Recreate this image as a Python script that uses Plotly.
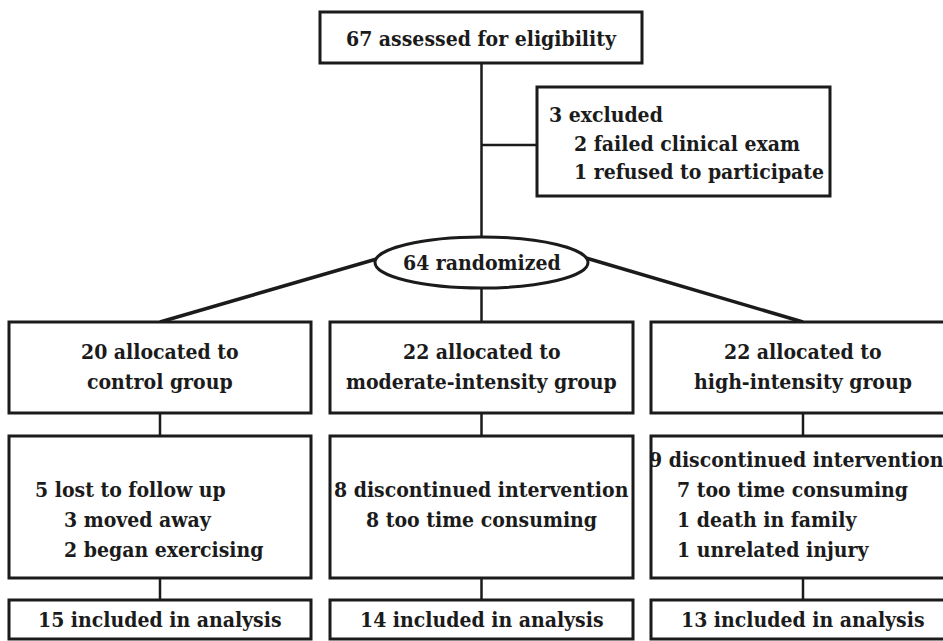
import plotly.graph_objects as go

# ---- texts of the flow diagram ----
top_label = "67 assessed for eligibility"
excluded_lines = ["3 excluded", "2 failed clinical exam", "1 refused to participate"]
random_label = "64 randomized"
alloc_labels = [
    ["20 allocated to", "control group"],
    ["22 allocated to", "moderate-intensity group"],
    ["22 allocated to", "high-intensity group"],
]
loss_lines = [
    ["5 lost to follow up", "3 moved away", "2 began exercising"],
    ["8 discontinued intervention", "8 too time consuming"],
    ["9 discontinued intervention", "7 too time consuming", "1 death in family", "1 unrelated injury"],
]
analysis_labels = ["15 included in analysis", "14 included in analysis", "13 included in analysis"]

W, H = 943, 641
FONT = "DejaVu Serif Condensed, DejaVu Serif"
FS = 21
INK = "#1b1b1b"
LW = 3

cols = [(9, 311), (330, 633), (651, 958)]
centers = [160, 481.5, 803]
row1 = (322, 413)
row2 = (436, 578)
row3 = (600, 639)

shapes = []
annotations = []


def box(x0, y0, x1, y1, w=LW):
    shapes.append(dict(type="rect", xref="x", yref="y", x0=x0, y0=y0, x1=x1, y1=y1,
                       line=dict(color=INK, width=w), fillcolor="white", layer="above"))


def line(x0, y0, x1, y1, w=2.5):
    shapes.append(dict(type="line", xref="x", yref="y", x0=x0, y0=y0, x1=x1, y1=y1,
                       line=dict(color=INK, width=w), layer="below"))


def text(s, x, y, anchor="center"):
    annotations.append(dict(text=f"<b>{s}</b>", x=x, y=y, xref="x", yref="y",
                            xanchor=anchor, yanchor="middle", showarrow=False,
                            font=dict(family=FONT, size=FS, color=INK)))


# connectors (drawn first, below boxes)
line(481.5, 63, 481.5, 240)
line(481.5, 145, 537, 145)
line(380, 258, centers[0], row1[0], w=3.5)
line(586, 258, centers[2], row1[0], w=3.5)
line(481.5, 285, 481.5, row1[0])
for c in centers:
    line(c, row1[1], c, row2[0])
    line(c, row2[1], c, row3[0])

# top box
box(320, 12, 642, 63)
text(top_label, 481, 38)

# exclusion box
box(537, 87, 830, 196)
text(excluded_lines[0], 547, 114, "left")
text(excluded_lines[1], 572, 143, "left")
text(excluded_lines[2], 572, 171, "left")

# randomized ellipse
shapes.append(dict(type="circle", xref="x", yref="y", x0=375, y0=237, x1=588, y1=288,
                   line=dict(color=INK, width=LW), fillcolor="white", layer="above"))
text(random_label, 481.5, 262)

# allocation row
for (x0, x1), c, lab in zip(cols, centers, alloc_labels):
    box(x0, row1[0], x1, row1[1])
    text(lab[0], c, 351)
    text(lab[1], c, 381)

# loss row
for (x0, x1) in cols:
    box(x0, row2[0], x1, row2[1])
text(loss_lines[0][0], 33, 489, "left")
text(loss_lines[0][1], 62, 519, "left")
text(loss_lines[0][2], 62, 549, "left")
text(loss_lines[1][0], 481.5, 489)
text(loss_lines[1][1], 481.5, 519)
text(loss_lines[2][0], 647, 459, "left")
for i, s in enumerate(loss_lines[2][1:]):
    text(s, 675, 489 + 30 * i, "left")

# analysis row
for (x0, x1), c, lab in zip(cols, centers, analysis_labels):
    box(x0, row3[0], x1, row3[1])
    text(lab, c, 619)

fig = go.Figure()
fig.update_layout(
    width=W, height=H,
    margin=dict(l=0, r=0, t=0, b=0),
    font=dict(family=FONT, size=FS, color=INK),
    paper_bgcolor="white", plot_bgcolor="white",
    xaxis=dict(range=[0, W], visible=False, fixedrange=True),
    yaxis=dict(range=[H, 0], visible=False, fixedrange=True),
    shapes=shapes, annotations=annotations,
    showlegend=False,
)
fig.write_html("out.html", config={"displayModeBar": False},
               post_script="document.body.style.margin='0';document.body.style.overflow='hidden';")
